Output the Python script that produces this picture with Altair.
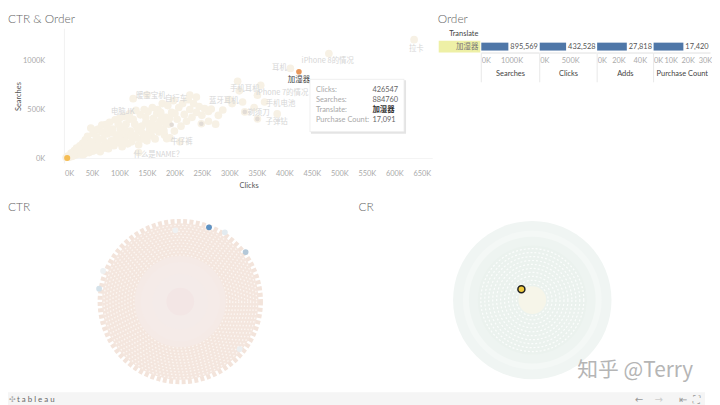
import altair as alt
import pandas as pd

FONT = "Lato, Noto Sans CJK SC, sans-serif"
CJK = "Noto Sans CJK SC, Lato, sans-serif"

# ---- scatter: clicks / searches in thousands
band_clicks = [3,6,9,12,15,18,20,22,25,28,30,33,35,38,40,42,45,48,50,52,55,58,60,62,65,68,70,72,75,78,80,82,85,88,90,92,95,98,100,102,105,108,110,112,115,118,120,122,125,128,130,132,135,138,140,142,145,148,150,152,155,158,160,162,165,168,170,172,175,178,180,182,185,188,190,192,195,198,200,205,208,212,215,218,222,225,228,232,235,240,245,250,255,262,
  14,24,34,44,54,64,74,84,94,104,114,124,134,144,154,164,174,184,28,38,48,58,68,78,88,98,108,118,128,138,148,158,168,178,31,41,51,61,71,81,91,101,111,121,131,141,151,161,171,181,191,201]
band_searches = [10,25,12,55,22,80,35,105,50,130,60,155,40,190,85,225,60,310,120,255,85,290,170,300,70,340,200,130,345,250,100,370,180,300,130,395,240,160,410,300,120,430,210,350,150,455,280,170,400,230,490,320,140,445,270,200,500,370,180,480,290,230,520,410,200,340,500,270,450,560,300,240,420,540,350,210,470,590,280,400,520,330,560,450,380,600,500,420,560,470,530,440,510,480,
  30,45,95,70,130,110,160,135,200,180,235,220,290,250,340,300,380,360,85,125,170,220,270,310,260,350,320,400,350,300,420,360,460,400,40,60,75,100,105,150,180,250,280,240,210,330,240,290,330,280,410,460]
out_clicks = [315,357,481,411,636,351,324,364,328,351,387,288,249,135,186,240,228,267,262,280,300,318,345,210,305,125,175,150,275]
out_searches = [788,747,1071,919,1212,646,576,576,475,404,455,495,354,61,202,626,646,505,380,440,600,690,520,170,560,610,470,650,350]
dark_clicks = [195,328,351,249]
dark_searches = [344,475,404,354]
label_text = ["耳机","iPhone 8的情况","手机耳机","iPhone 7的情况","暖宝宝机","自行车","蓝牙耳机","手机电池","剃须刀","电脑JK","子弹钻","牛仔裤","什么是NAME？","拉卡"]
label_clicks = [391,479,328,396,157,203,290,393,353,106,386,213,171,640]
label_searches = [919,990,707,667,636,606,586,555,465,475,374,172,40,1121]
x_ticks = [0,50,100,150,200,250,300,350,400,450,500,550,600,650]
y_ticks = [0,500,1000]
hi_name = "加湿器"
hi_clicks = [426.547]
hi_searches = [884.76]
origin_clicks = [5]
origin_searches = [5]
tip_keys = ["Clicks:","Searches:","Translate:","Purchase Count:"]
tip_vals = ["426547","884760","加湿器","17,091"]

# ---- bars
measures = ["Searches","Clicks","Adds","Purchase Count"]
bar_values = [895569,432528,27818,17420]
bar_max = [1900000,925000,52000,33000]
bar_ticks = [[0,1000000],[0,500000],[0,20000,40000],[0,10000,20000,30000]]
bar_widths = [58,57,56,57]

# ---- packed bubbles, drawn as rings: radius in px-like units
ctr_disc_r = [79]
ctr_disc_c = ["#f4e6de"]
ctr_stipple_r = [47,50,53,56,59,62,65,68,71,74,77]
ctr_mid_r = [46,40,28]
ctr_mid_c = ["#f5eae6","#f5ebe8","#f4ebe9"]
ctr_core_r = [14]
cr_disc_r = [80,70,64,55]
cr_disc_c = ["#f0f5f3","#f4f8f6","#eef4f1","#ebf2ee"]
cr_stipple_r = [8,12,16,20,24,28,32,36,40,44,48,52]
cr_core_r = [14]
ctr_extra_x = [29,45,66,-82,-78,-5,60]
ctr_extra_y = [75,70,50,13,31,72,-48]
ctr_extra_c = ["#5f93c4","#e3ebf0","#b4c8d8","#d5e2ea","#eef1f2","#eff1f2","#eceff1"]
cr_dot_x = [-11]
cr_dot_y = [11]

blank = pd.DataFrame({"v":[0]})
def spacer(w, h=10):
    return alt.Chart(blank).mark_text(text="").encode(x=alt.value(0), y=alt.value(12)).properties(width=w, height=h)

def text_at(text, x, y, size=8, color="#999", font=FONT, align="left", weight=400, baseline="middle"):
    return alt.Chart(blank).mark_text(text=text, font=font, fontSize=size, color=color, align=align,
        baseline=baseline, fontWeight=weight).encode(x=alt.value(x), y=alt.value(y))

# row 0: titles
row0 = alt.layer(
    text_at("CTR & Order", 0, 9, 12, "#666", weight=300),
    text_at("Order", 434, 9, 12, "#666", weight=300),
).properties(width=704, height=18)

# row 1: scatter
XS = alt.Scale(domain=[0,670], nice=False, zero=False)
YS = alt.Scale(domain=[-50.5,1323], nice=False, zero=False)
K = "datum.value + 'K'"
AX = alt.Axis(values=x_ticks, labelExpr=K, grid=False, domain=False, ticks=False,
    labelOverlap=False, labelFont=FONT, labelFontSize=7.5, labelColor="#aaa", labelPadding=6, titleFont=FONT, titleFontSize=7.5, titleColor="#555",
    titleFontWeight="normal", titlePadding=5)
AY = alt.Axis(values=y_ticks, labelExpr=K, grid=False, domain=False, ticks=False,
    labelOverlap=False, labelFont=FONT, labelFontSize=7.5, labelColor="#aaa", labelPadding=20, titleFont=FONT, titleFontSize=7.5, titleColor="#555",
    titleFontWeight="normal", titlePadding=0)
X0 = lambda f: alt.X(f, scale=XS, axis=AX, title="Clicks")
Y0 = lambda f: alt.Y(f, scale=YS, axis=AY, title="Searches")
pts = pd.DataFrame({"c":band_clicks+out_clicks, "s":band_searches+out_searches})
base = alt.Chart(pts).mark_circle(size=60, color="#f7f1e5", opacity=1).encode(x=X0("c:Q"), y=Y0("s:Q"))
dark = alt.Chart(pd.DataFrame({"c":dark_clicks,"s":dark_searches})).mark_circle(size=22, color="#e2dcd6", opacity=1).encode(
    x=X0("c:Q"), y=Y0("s:Q"))
zero_x = alt.Chart(pd.DataFrame({"c":[0]})).mark_rule(color="#f2f2f2").encode(x=X0("c:Q"))
zero_y = alt.Chart(pd.DataFrame({"s":[0]})).mark_rule(color="#f4f4f4").encode(y=Y0("s:Q"))
labels = alt.Chart(pd.DataFrame({"t":label_text,"c":label_clicks,"s":label_searches})).mark_text(
    font=CJK, fontSize=7.5, color="#d6d6d6").encode(x=X0("c:Q"), y=Y0("s:Q"), text="t:N")
hi = alt.Chart(pd.DataFrame({"c":hi_clicks,"s":hi_searches})).mark_circle(size=32, color="#e8975a", opacity=1).encode(
    x=X0("c:Q"), y=Y0("s:Q"))
hi_label = alt.Chart(pd.DataFrame({"c":hi_clicks,"s":hi_searches,"t":[hi_name]})).mark_text(
    font=CJK, fontSize=7.5, color="#444", dy=8).encode(x=X0("c:Q"), y=Y0("s:Q"), text="t:N")
origin = alt.Chart(pd.DataFrame({"c":origin_clicks,"s":origin_searches})).mark_circle(size=38, color="#f5bd55", opacity=1).encode(
    x=X0("c:Q"), y=Y0("s:Q"))
shadow = alt.Chart(blank).mark_rect(color="#e4e4e4").encode(x=alt.value(249), x2=alt.value(345), y=alt.value(52), y2=alt.value(106))
tipbox = alt.Chart(blank).mark_rect(color="#ffffff", stroke="#e8e8e8", strokeWidth=0.7).encode(x=alt.value(248), x2=alt.value(343), y=alt.value(51), y2=alt.value(104))
tip = []
for i,(a,b) in enumerate(zip(tip_keys,tip_vals)):
    tip.append(text_at(a, 254, 62+10*i, 7.5, "#aaa"))
    tip.append(text_at(b, 311, 62+10*i, 7.5, "#333" if i==2 else "#666", font=CJK if i==2 else FONT, weight=700 if i==2 else 400))
scatter = alt.layer(zero_x, zero_y, base, dark, labels, hi, hi_label, origin, shadow, tipbox, *tip).properties(width=372, height=136)

# row header
RY = alt.Scale(domain=["", hi_name], paddingInner=0, paddingOuter=0)
hdr_df = pd.DataFrame({"r":[hi_name]})
hdr = alt.layer(
    alt.Chart(hdr_df).mark_rect(color="#eef0a6").encode(y=alt.Y("r:N", scale=RY, axis=None), x=alt.value(0), x2=alt.value(42)),
    alt.Chart(hdr_df).mark_text(font=CJK, fontSize=7.5, color="#777", align="right").encode(
        y=alt.Y("r:N", scale=RY, axis=None), x=alt.value(40), text="r:N"),
    text_at("Translate", 40, 5, 7.5, "#444", align="right"),
).properties(width=42, height=24)

def bar_panel(i):
    df = pd.DataFrame({"v":[bar_values[i]], "r":[hi_name], "t":[f"{bar_values[i]:,}"]})
    xs = alt.Scale(domain=[0,bar_max[i]], nice=False)
    ax = alt.Axis(values=bar_ticks[i],
            labelExpr="datum.value/1000 + 'K'", grid=False, ticks=False, domain=True, domainColor="#e0e0e0", labelFlush=True,
            labelOverlap=False, labelFont=FONT, labelFontSize=7.5, labelColor="#aaa", labelPadding=4,
            titleFont=FONT, titleFontSize=7.5, titleColor="#444", titleFontWeight="normal", titlePadding=6)
    bars = alt.Chart(df).mark_bar(size=8, color="#4f77a8").encode(
        x=alt.X("v:Q", scale=xs, title=measures[i], axis=ax),
        y=alt.Y("r:N", scale=RY, axis=None))
    lab = alt.Chart(df).mark_text(font=FONT, fontSize=7.5, color="#555", align="left", dx=2).encode(
        x=alt.X("v:Q", scale=xs, title=measures[i], axis=ax), y=alt.Y("r:N", scale=RY, axis=None), text="t:N")
    sep = alt.Chart(blank).mark_rule(color="#e8e8e8").encode(x=alt.value(0), y=alt.value(24), y2=alt.value(54))
    return alt.layer(sep, bars, lab).properties(width=bar_widths[i], height=24)

row1 = alt.hconcat(spacer(6,24), scatter, spacer(5,24), hdr, *[bar_panel(i) for i in range(4)], spacing=0)

# row 2: bubbles
def scales(w, h, cx, cy):
    return (alt.Scale(domain=[-cx, w-cx], nice=False, zero=False), alt.Scale(domain=[-(h-cy), cy], nice=False, zero=False))

def discs(rs, colors, xs, ys):
    # a Vega circle of size s has diameter sqrt(s)
    d = pd.DataFrame({"x":[0]*len(rs),"y":[0]*len(rs),"a":[4*r*r for r in rs],"c":colors,"o":list(range(len(rs)))})
    return alt.Chart(d).mark_point(filled=True, opacity=1, strokeWidth=0).encode(
        x=alt.X("x:Q",scale=xs,axis=None), y=alt.Y("y:Q",scale=ys,axis=None),
        size=alt.Size("a:Q",scale=None,legend=None), color=alt.Color("c:N",scale=None,legend=None), order="o:Q")

def stipple(rs, color, xs, ys, width=1.3, dash=(1.6,2.4)):
    d = pd.DataFrame({"x":[0]*len(rs),"y":[0]*len(rs),"a":[4*r*r for r in rs]})
    return alt.Chart(d).mark_point(filled=False, opacity=1, color=color, strokeWidth=width, strokeDash=list(dash)).encode(
        x=alt.X("x:Q",scale=xs,axis=None), y=alt.Y("y:Q",scale=ys,axis=None),
        size=alt.Size("a:Q",scale=None,legend=None))

H2 = 201
xs, ys = scales(348, H2, 174, 113.5)
ctr_edge = stipple([81], "#f3e4db", xs, ys, width=5, dash=(4,2.4))
ctr_x = alt.Chart(pd.DataFrame({"x":ctr_extra_x,"y":ctr_extra_y,"c":ctr_extra_c})).mark_circle(size=34, opacity=1).encode(
    x=alt.X("x:Q",scale=xs,axis=None), y=alt.Y("y:Q",scale=ys,axis=None), color=alt.Color("c:N",scale=None,legend=None))
ctr = alt.layer(
    ctr_edge,
    discs(ctr_disc_r, ctr_disc_c, xs, ys),
    stipple(ctr_stipple_r, "#fcf6f2", xs, ys),
    discs(ctr_mid_r, ctr_mid_c, xs, ys),
    discs(ctr_core_r, ["#f3e6e5"], xs, ys),
    ctr_x,
    text_at("CTR", 0, 18, 12, "#666", weight=300),
).properties(width=348, height=H2)

xs2, ys2 = scales(356, H2, 181.5, 112)
cr_dot = alt.Chart(pd.DataFrame({"x":cr_dot_x,"y":cr_dot_y})).mark_point(filled=True, size=50, color="#f0cb3f", stroke="#222222", strokeWidth=1.5, opacity=1).encode(
    x=alt.X("x:Q",scale=xs2,axis=None), y=alt.Y("y:Q",scale=ys2,axis=None))
cr = alt.layer(
    discs(cr_disc_r, cr_disc_c, xs2, ys2),
    stipple(cr_stipple_r, "#fbfdfc", xs2, ys2, width=1.2, dash=(2,2)),
    discs(cr_core_r, ["#f6f5e9"], xs2, ys2),
    cr_dot,
    text_at("CR", 6, 18, 12, "#666", weight=300),
    text_at("知乎 @Terry", 227, 184, 21, "#b5b5b5", font=CJK),
).properties(width=356, height=H2)
row2 = alt.hconcat(ctr, cr, spacing=0)

# footer
footer = alt.layer(
    alt.Chart(blank).mark_rect(color="#f5f5f5").encode(x=alt.value(0), x2=alt.value(704), y=alt.value(0), y2=alt.value(15)),
    text_at("✣", 1, 8, 8, "#aaa", font="DejaVu Sans"),
    text_at("t a b l e a u", 9, 8, 8, "#666"),
    text_at("←", 633, 8, 10, "#999", font="DejaVu Sans"),
    text_at("→", 653, 8, 10, "#ccc", font="DejaVu Sans"),
    text_at("⇤", 678, 8, 10, "#999", font="DejaVu Sans"),
    text_at("⛶", 692, 8, 10, "#999", font="DejaVu Sans"),
).properties(width=704, height=15)

chart = alt.vconcat(row0, row1, row2, footer, spacing=0).properties(padding=0).configure_view(stroke=None).configure_axis(labelOverlap=False)

chart.save("out.html", embed_options={"renderer": "svg", "actions": False})
